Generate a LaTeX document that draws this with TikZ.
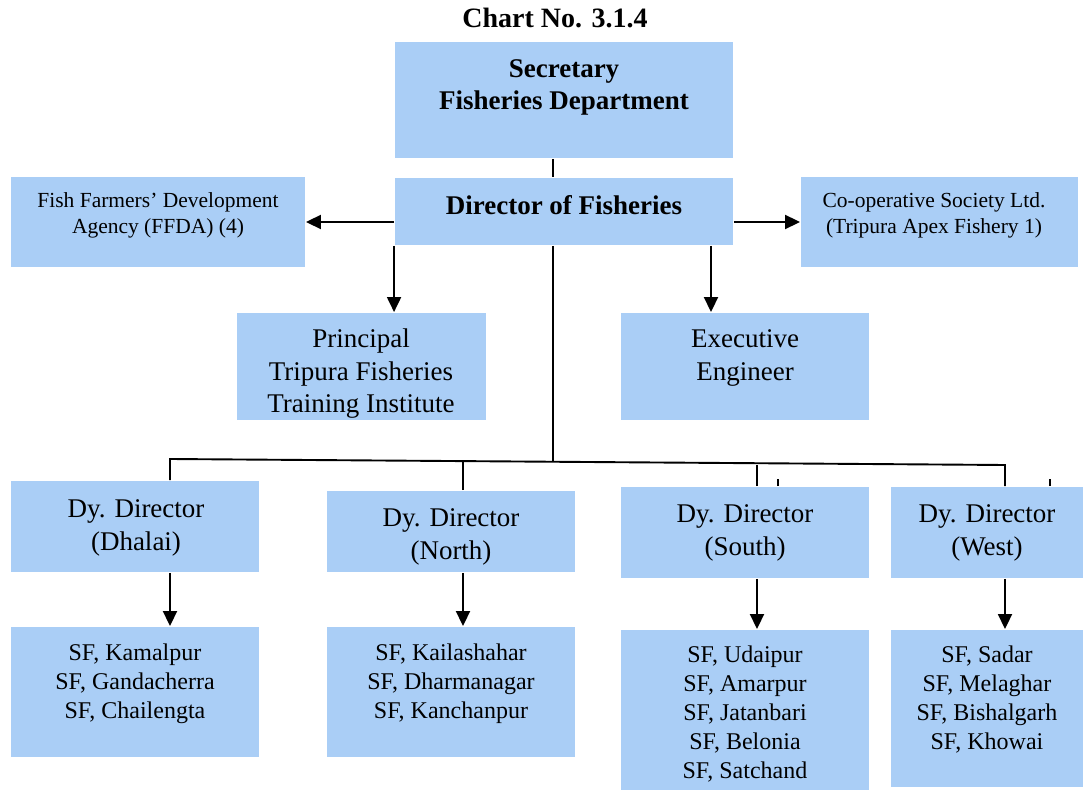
\documentclass[tikz,border=0pt]{standalone}
\usepackage{fontspec}
\setmainfont{Liberation Serif}
\usepackage{xcolor}
\usepackage{tikz}
\usetikzlibrary{arrows.meta}
\usetikzlibrary{positioning}
\definecolor{chartblue}{RGB}{170,206,246}
\tikzset{
    tnode/.style = {align=center, inner sep=0pt, text centered},
    cbox/.style = {rectangle, fill=chartblue, draw=none, inner sep=0pt},
    titletxt/.style = {tnode, font=\fontsize{28}{33}\selectfont\bfseries},
    headtxt/.style = {tnode, font=\fontsize{27}{32}\selectfont\bfseries},
    sidetxt/.style = {tnode, font=\fontsize{21.5}{26}\selectfont},
    midtxt/.style = {tnode, font=\fontsize{27}{32.5}\selectfont},
    sftxt/.style = {tnode, font=\fontsize{24}{29}\selectfont}
}
\begin{document}
\begin{tikzpicture}[x=1pt, y=-1pt, line width=1.9pt, >={Triangle[length=15pt,width=14pt]}]
    \useasboundingbox (0,0) rectangle (1084,791);
    % boxes
    \node [cbox, minimum width=338pt, minimum height=116pt] (sec) at (564,100) {};
    \node [cbox, minimum width=338pt, minimum height=67pt] (dir) at (564,211.5) {};
    \node [cbox, minimum width=294pt, minimum height=90pt] (ffda) at (158,222) {};
    \node [cbox, minimum width=277pt, minimum height=90pt] (coop) at (939.5,222) {};
    \node [cbox, minimum width=249pt, minimum height=107pt] (prin) at (361.5,366.5) {};
    \node [cbox, minimum width=248pt, minimum height=107pt] (exec) at (745,366.5) {};
    \node [cbox, minimum width=248pt, minimum height=91pt] (dyD) at (135,526.5) {};
    \node [cbox, minimum width=248pt, minimum height=81pt] (dyN) at (451,531.5) {};
    \node [cbox, minimum width=248pt, minimum height=91pt] (dyS) at (745,532.5) {};
    \node [cbox, minimum width=192pt, minimum height=91pt] (dyW) at (987,532.5) {};
    \node [cbox, minimum width=248pt, minimum height=130pt] (sfD) at (135,692) {};
    \node [cbox, minimum width=248pt, minimum height=130pt] (sfN) at (451,692) {};
    \node [cbox, minimum width=248pt, minimum height=160pt] (sfS) at (745,710) {};
    \node [cbox, minimum width=192pt, minimum height=157pt] (sfW) at (987,708.5) {};

    % texts
    \node [titletxt] (title) at (555,18) {Chart No. 3.1.4};
    \node [headtxt] (secT) at (564,87) {Secretary\\Fisheries Department};
    \node [headtxt] (dirT) at (564,205) {Director of Fisheries};
    \node [sidetxt] (ffdaT) at (158,215) {Fish Farmers’ Development\\Agency (FFDA) (4)};
    \node [sidetxt] (coopT) at (934,215) {Co-operative Society Ltd.\\(Tripura Apex Fishery 1)};
    \node [midtxt] (prinT) at (361,374) {Principal\\Tripura Fisheries\\Training Institute};
    \node [midtxt] (execT) at (745,358) {Executive\\Engineer};
    \node [midtxt] (dyDT) at (136,528) {Dy. Director\\(Dhalai)};
    \node [midtxt] (dyNT) at (451,537) {Dy. Director\\(North)};
    \node [midtxt] (dyST) at (745,533) {Dy. Director\\(South)};
    \node [midtxt] (dyWT) at (987,533) {Dy. Director\\(West)};
    \node [sftxt] (sfDT) at (135,684) {SF, Kamalpur\\SF, Gandacherra\\SF, Chailengta};
    \node [sftxt] (sfNT) at (451,684) {SF, Kailashahar\\SF, Dharmanagar\\SF, Kanchanpur};
    \node [sftxt] (sfST) at (745,714) {SF, Udaipur\\SF, Amarpur\\SF, Jatanbari\\SF, Belonia\\SF, Satchand};
    \node [sftxt] (sfWT) at (987,700) {SF, Sadar\\SF, Melaghar\\SF, Bishalgarh\\SF, Khowai};

    % connectors
    \coordinate (trunk) at (553,461);
    \coordinate (busL) at (170,459);
    \coordinate (busR) at (1005,465);
    \draw (sec.south -| trunk) -- (dir.north -| trunk);
    \draw (dir.south -| trunk) -- (trunk);
    \draw [->] (dir.west |- ffda.east) -- (ffda.east);
    \draw [->] (dir.east |- coop.west) -- (coop.west);
    \draw [->] (dir.south west) -- (dir.south west |- prin.north);
    \draw [->] ([xshift=-34pt]exec.north |- dir.south) -- ([xshift=-34pt]exec.north);
    \draw ([xshift=35pt]dyD.north) -- (busL) -- (busR) -- ([xshift=18pt]dyW.north);
    \draw ([xshift=12pt]dyN.north) -- ([xshift=12pt]dyN.north |- trunk);
    \draw ([xshift=12pt]dyS.north) -- ([xshift=12pt]dyS.north |- busR);
    \draw ([xshift=33pt]dyS.north) -- ++(0,-7);
    \draw ([xshift=63pt]dyW.north) -- ++(0,-7);
    \draw [->] ([xshift=35pt]dyD.south) -- ([xshift=35pt]sfD.north);
    \draw [->] ([xshift=12pt]dyN.south) -- ([xshift=12pt]sfN.north);
    \draw [->] ([xshift=12pt]dyS.south) -- ([xshift=12pt]sfS.north);
    \draw [->] ([xshift=18pt]dyW.south) -- ([xshift=18pt]sfW.north);
\end{tikzpicture}
\end{document}
